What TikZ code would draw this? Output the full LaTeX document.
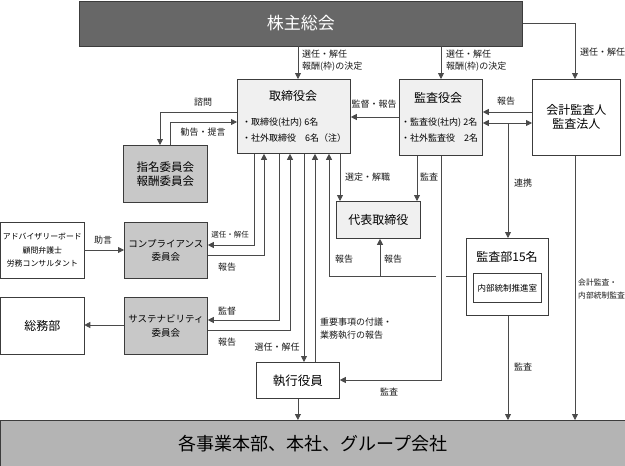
\documentclass[tikz,border=0pt]{standalone}
\usepackage{fontspec}
\setmainfont{Noto Sans CJK JP}
\usetikzlibrary{arrows.meta}
\definecolor{cdark}{HTML}{676767}
\definecolor{cbot}{HTML}{B4B4B4}
\definecolor{ccom}{HTML}{C8C8C8}
\definecolor{clight}{HTML}{F0F0F0}
\definecolor{bordc}{HTML}{3C3C3C}
\definecolor{linec}{HTML}{4A4A4A}
\newcommand{\fs}[1]{\fontsize{#1}{#1}\selectfont}
\begin{document}
\begin{tikzpicture}[x=1pt,y=-1pt,
  box/.style={draw=bordc, line width=0.8pt, inner sep=0pt, anchor=north west, align=center},
  ln/.style={draw=linec, line width=0.8pt},
  arr/.style={ln, -{Triangle[length=6pt,width=6pt]}},
  dbl/.style={ln, {Triangle[length=6pt,width=6pt]}-{Triangle[length=6pt,width=6pt]}},
  lab/.style={font=\fs{9}, inner sep=0pt, text=black!90},
  labw/.style={lab, anchor=west},
  txt/.style={inner sep=0pt, align=center}]
\useasboundingbox (0,0) rectangle (625,466);
% boxes
\node[box, fill=cdark, minimum width=443pt, minimum height=45pt, text=white, font=\fs{17}] (agm) at (79,0.5) {株主総会};
\node[box, fill=clight, minimum width=113pt, minimum height=74pt] (board) at (237,79) {};
\node[box, fill=clight, minimum width=83pt, minimum height=76pt] (kansa) at (399,79) {};
\node[box, fill=white, minimum width=88pt, minimum height=76pt, font=\fs{12}] (auditor) at (532,79) {会計監査人\\[2pt]監査法人};
\node[box, fill=ccom, minimum width=84pt, minimum height=57pt, font=\fs{11.5}] (nomcom) at (123,145) {指名委員会\\[3pt]報酬委員会};
\node[box, fill=ccom, minimum width=83pt, minimum height=56pt, font=\fs{9.5}] (comp) at (124,222) {コンプライアンス\\[4pt]委員会};
\node[box, fill=white, minimum width=83pt, minimum height=56pt, font=\fs{7.9}] (advis) at (0.5,222) {アドバイザリーボード\\[5.5pt]顧問弁護士\\[5.5pt]労務コンサルタント};
\node[box, fill=ccom, minimum width=83pt, minimum height=57pt, font=\fs{9.5}] (sust) at (124,297) {サステナビリティ\\[4pt]委員会};
\node[box, fill=white, minimum width=83pt, minimum height=57pt, font=\fs{12}] (soumu) at (0.5,297) {総務部};
\node[box, fill=clight, minimum width=84pt, minimum height=37pt, font=\fs{12}] (ceo) at (336,201) {代表取締役};
\node[box, fill=white, minimum width=82pt, minimum height=77pt] (iaud) at (466,238) {};
\node[box, fill=white, minimum width=68pt, minimum height=29pt, font=\fs{8.5}] (inner) at (473,273) {内部統制推進室};
\node[box, fill=white, minimum width=83pt, minimum height=36pt, font=\fs{12.5}] (exec) at (256,362) {執行役員};
\node[box, fill=cbot, minimum width=624pt, minimum height=45.5pt, font=\fs{18}] (bottom) at (0.5,420) {各事業本部、本社、グループ会社};
% texts inside boxes
\node[txt, font=\fs{12}] (boardt) at (293,96) {取締役会};
\node[txt, font=\fs{9}, anchor=west] (boardb1) at (242,123) {・取締役(社内) 6名};
\node[txt, font=\fs{9}, anchor=west] (boardb2) at (242,138) {・社外取締役　6名（注）};
\node[txt, font=\fs{12}] (kansat) at (438,98) {監査役会};
\node[txt, font=\fs{9}, anchor=west] (kansab1) at (401,123) {・監査役(社内) 2名};
\node[txt, font=\fs{9}, anchor=west] (kansab2) at (401,138) {・社外監査役　2名};
\node[txt, font=\fs{12}] (iaudt) at (507,257) {監査部15名};
% connectors
\draw[arr] (298,0 |- agm.south) -- (298,0 |- board.north);
\draw[arr] (441,0 |- agm.south) -- (441,0 |- kansa.north);
\draw[arr] (agm.east) -- (575,0 |- agm.east) -- (575,0 |- auditor.north);
\draw[arr] (kansa.west |- 0,117) -- (board.east |- 0,117);
\draw[arr] (auditor.west |- 0,112) -- (kansa.east |- 0,112);
\draw[dbl] (kansa.east |- 0,123) -- (auditor.west |- 0,123);
\coordinate (rx) at (508,123);
\draw[arr] (rx) -- (rx |- iaud.north);
\draw[arr] (board.west |- 0,112) -- (160,112) -- (160,0 |- nomcom.north);
\draw[arr] (170,0 |- nomcom.north) -- (170,122) -- (board.west |- 0,122);
\draw[arr] (254,0 |- board.south) -- (254,245) -- (comp.east |- 0,245);
\draw[arr] (comp.east |- 0,255) -- (264,255) -- (264,0 |- board.south);
\draw[arr] (279,0 |- board.south) -- (279,320) -- (sust.east |- 0,320);
\draw[arr] (sust.east |- 0,330) -- (290,330) -- (290,0 |- board.south);
\draw[arr] (304,0 |- board.south) -- (304,0 |- exec.north);
\draw[arr] (315,0 |- exec.north) -- (315,0 |- board.south);
\draw[arr] (340,0 |- board.south) -- (340,0 |- ceo.north);
\draw[arr] (417,0 |- kansa.south) -- (417,0 |- ceo.north);
\draw[arr] (441,0 |- kansa.south) -- (441,380) -- (exec.east |- 0,380);
\draw[arr] (iaud.west |- 0,276) -- (446,276) (436,276) -- (329,276) -- (329,0 |- board.south);
\coordinate (bx) at (380,276);
\draw[arr] (bx) -- (bx |- ceo.south);
\draw[arr] (advis.east |- 0,250) -- (comp.west |- 0,250);
\draw[arr] (sust.west |- 0,325) -- (soumu.east |- 0,325);
\draw[arr] (exec.south) -- (exec.south |- bottom.north);
\draw[arr] (508,0 |- iaud.south) -- (508,0 |- bottom.north);
\draw[arr] (575,0 |- auditor.south) -- (575,0 |- bottom.north);
% labels
\node[labw] (l1) at (302,54) {選任・解任};
\node[labw] (l2) at (302,67) {報酬(枠)の決定};
\node[labw] (l3) at (446,54) {選任・解任};
\node[labw] (l4) at (446,67) {報酬(枠)の決定};
\node[labw] (l5) at (580,52) {選任・解任};
\node[lab] (l6) at (203,102) {諮問};
\node[lab] (l7) at (203,132) {勧告・提言};
\node[lab] (l8) at (374,104) {監督・報告};
\node[lab] (l9) at (506,101) {報告};
\node[labw] (l10) at (514,183) {連携};
\node[labw] (l11) at (345,177) {選定・解職};
\node[labw] (l12) at (420,177) {監査};
\node[lab, font=\fs{7.5}] (l13) at (230,235) {選任・解任};
\node[lab] (l14) at (227,267) {報告};
\node[lab] (l15) at (227,311) {監督};
\node[lab] (l16) at (227,342) {報告};
\node[lab] (l17) at (277,347) {選任・解任};
\node[labw] (l18) at (320,322) {重要事項の付議・};
\node[labw] (l19) at (320,335) {業務執行の報告};
\node[lab] (l20) at (344,259) {報告};
\node[lab] (l21) at (393,259) {報告};
\node[lab] (l22) at (389,392) {監査};
\node[labw] (l23) at (514,367) {監査};
\node[labw, font=\fs{7.8}] (l24) at (578,283) {会計監査・};
\node[labw, font=\fs{7.8}] (l25) at (578,296) {内部統制監査};
\node[lab] (l26) at (103,240) {助言};
\end{tikzpicture}
\end{document}
